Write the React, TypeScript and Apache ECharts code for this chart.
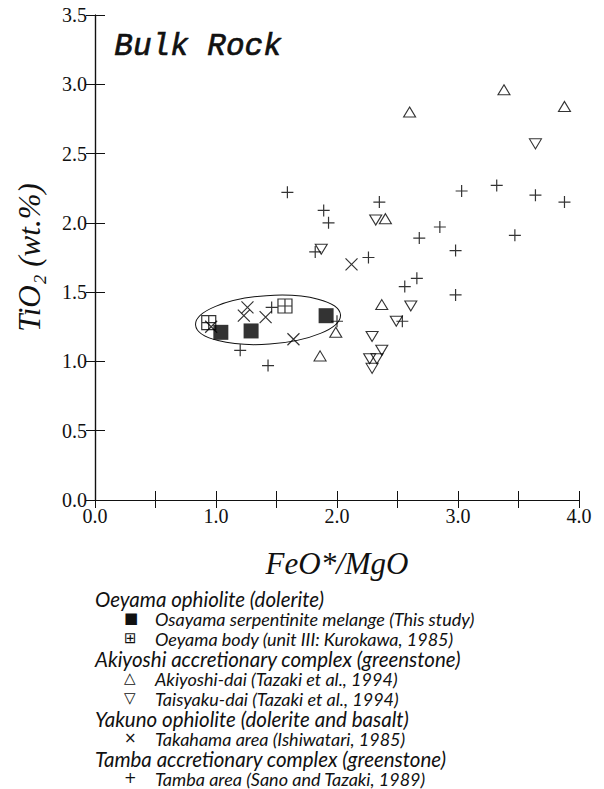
import React, { useEffect, useRef } from "react";
import * as echarts from "echarts";

// ---- data (FeO*/MgO, TiO2 wt.%) ----
const osayamaX = [1.04, 1.29, 1.91];
const osayamaY = [1.21, 1.22, 1.33];

const oeyamaX = [0.94, 1.57];
const oeyamaY = [1.28, 1.40];

const akiyoshiX = [1.99, 1.86, 2.40, 2.37, 3.38, 3.88, 2.60];
const akiyoshiY = [1.21, 1.04, 2.03, 1.41, 2.96, 2.84, 2.80];

const taisyakuX = [2.32, 1.87, 2.61, 2.49, 2.29, 2.37, 2.27, 2.33, 2.29, 3.64];
const taisyakuY = [2.02, 1.81, 1.40, 1.29, 1.18, 1.08, 1.02, 1.02, 0.95, 2.57];

const takahamaX = [1.26, 1.23, 1.41, 1.64, 0.96, 2.12];
const takahamaY = [1.39, 1.33, 1.32, 1.16, 1.25, 1.70];

const tambaX = [1.46, 1.20, 1.43, 2.00, 1.59, 1.89, 1.93, 1.82, 2.35, 2.68, 2.26, 2.66, 2.56, 2.54, 3.03, 3.32, 3.64, 3.88, 2.85, 3.47, 2.98, 2.98];
const tambaY = [1.39, 1.08, 0.97, 1.29, 2.22, 2.09, 2.00, 1.79, 2.15, 1.89, 1.75, 1.60, 1.54, 1.29, 2.23, 2.27, 2.20, 2.15, 1.97, 1.91, 1.80, 1.48];

// ellipse enclosing the Oeyama ophiolite group: [centerX, centerY, radiusX, radiusY]
const ellipseParams = [1.43, 1.30, 0.60, 0.175];

const xTicks = [0, 0.5, 1, 1.5, 2, 2.5, 3, 3.5, 4];
const yTicks = [0, 0.5, 1, 1.5, 2, 2.5, 3, 3.5];

const legendLines = [
  { kind: "header", text: "Oeyama ophiolite (dolerite)" },
  { kind: "item", sym: "■", text: "Osayama serpentinite melange (This study)" },
  { kind: "item", sym: "⊞", text: "Oeyama body (unit III: Kurokawa, 1985)" },
  { kind: "header", text: "Akiyoshi accretionary complex (greenstone)" },
  { kind: "item", sym: "△", text: "Akiyoshi-dai (Tazaki et al., 1994)" },
  { kind: "item", sym: "▽", text: "Taisyaku-dai (Tazaki et al., 1994)" },
  { kind: "header", text: "Yakuno ophiolite (dolerite and basalt)" },
  { kind: "item", sym: "×", text: "Takahama area (Ishiwatari, 1985)" },
  { kind: "header", text: "Tamba accretionary complex (greenstone)" },
  { kind: "item", sym: "+", text: "Tamba area (Sano and Tazaki, 1989)" },
];

const zip = (xs: number[], ys: number[]) => xs.map((x, i) => [x, ys[i]]);

const PLUS = "path://M0,6H12M6,0V12";
const CROSS = "path://M0,0L12,12M12,0L0,12";
const BOXPLUS = "path://M0,0H12V12H0ZM6,0V12M0,6H12";

const outline = { color: "rgba(0,0,0,0)", borderColor: "#000", borderWidth: 1.1 };

export default function App() {
  const ref = useRef<HTMLDivElement>(null);
  useEffect(() => {
    if (!ref.current) return;
    const chart = echarts.init(ref.current, null, { renderer: "svg" });
    const serif = "'Liberation Serif', 'Times New Roman', serif";
    const legendFont = "Lato, 'Open Sans', sans-serif";

    const legendGraphics: any[] = [];
    const top0 = 597;
    const step = 20;
    legendLines.forEach((l, i) => {
      const y = top0 + i * step;
      if (l.kind === "header") {
        legendGraphics.push({
          type: "text", left: 95, top: y - 8,
          style: { text: l.text, font: `italic 20.5px ${legendFont}`, fill: "#111", lineHeight: 16 },
        });
      } else {
        legendGraphics.push({
          type: "text", left: 124, top: y - 7,
          style: { text: (l as any).sym, font: `15px 'DejaVu Sans', sans-serif`, fill: "#111", lineHeight: 14 },
        });
        legendGraphics.push({
          type: "text", left: 155, top: y - 7,
          style: { text: l.text, font: `italic 18px ${legendFont}`, fill: "#111", lineHeight: 14 },
        });
      }
    });

    const axisCommon = {
      axisLine: { show: true, lineStyle: { color: "#111", width: 1.2 } },
      splitLine: { show: false },
    };

    chart.setOption({
      animation: false,
      backgroundColor: "#fff",
      grid: { left: 95, right: 25, top: 15, bottom: 289, containLabel: false },
      xAxis: [
        {
          type: "value", min: 0, max: 4, interval: 0.5, position: "bottom",
          ...axisCommon,
          axisTick: { show: true, inside: true, length: 9, lineStyle: { color: "#111" } },
          axisLabel: {
            margin: 6, color: "#111", fontFamily: serif, fontSize: 20,
            formatter: (v: number) => (xTicks.includes(v) && Number.isInteger(v) ? v.toFixed(1) : ""),
          },
          name: "FeO*/MgO", nameLocation: "middle", nameGap: 48,
          nameTextStyle: { fontFamily: serif, fontStyle: "italic", fontSize: 31, color: "#111" },
        },
        {
          type: "value", min: 0, max: 4, interval: 0.5, position: "top",
          ...axisCommon,
          axisTick: { show: true, inside: true, length: 8, lineStyle: { color: "#111" } },
          axisLabel: { show: false },
        },
      ],
      yAxis: [
        {
          type: "value", min: 0, max: 3.5, interval: 0.5, position: "left",
          ...axisCommon,
          axisTick: { show: true, inside: true, length: 10, lineStyle: { color: "#111" } },
          axisLabel: {
            margin: 8, color: "#111", fontFamily: serif, fontSize: 20,
            formatter: (v: number) => (yTicks.includes(v) ? v.toFixed(1) : ""),
            padding: [6, 0, 0, 0],
          },
          name: "TiO₂ (wt.%)", nameLocation: "middle", nameGap: 50, nameRotate: 90,
          nameTextStyle: { fontFamily: serif, fontStyle: "italic", fontSize: 31, color: "#111" },
        },
        {
          type: "value", min: 0, max: 3.5, interval: 0.5, position: "right",
          ...axisCommon,
          axisTick: { show: true, inside: true, length: 9, lineStyle: { color: "#111" } },
          axisLabel: { show: false },
        },
      ],
      graphic: [
        {
          type: "text", left: 114, top: 31,
          style: {
            text: "Bulk Rock", font: `italic 31px 'Liberation Mono', 'DejaVu Sans Mono', monospace`,
            fill: "#111", stroke: "#111", lineWidth: 0.7,
          },
        },
        ...legendGraphics,
      ],
      series: [
        {
          type: "custom",
          coordinateSystem: "cartesian2d",
          data: [ellipseParams],
          silent: true,
          renderItem: (params: any, api: any) => {
            const c = api.coord([api.value(0), api.value(1)]);
            const s = api.size([api.value(2), api.value(3)]);
            return {
              type: "ellipse",
              x: c[0], y: c[1],
              rotation: 0.07,
              shape: { cx: 0, cy: 0, rx: s[0], ry: s[1] },
              style: { fill: "none", stroke: "#111", lineWidth: 1 },
            };
          },
          z: 1,
        },
        {
          name: "Tamba area", type: "scatter", data: zip(tambaX, tambaY),
          symbol: PLUS, symbolSize: 12, itemStyle: { ...outline, borderWidth: 1.2 }, z: 3,
        },
        {
          name: "Takahama area", type: "scatter", data: zip(takahamaX, takahamaY),
          symbol: CROSS, symbolSize: 12, itemStyle: { ...outline, borderWidth: 1.2 }, z: 3,
        },
        {
          name: "Akiyoshi-dai", type: "scatter", data: zip(akiyoshiX, akiyoshiY),
          symbol: "triangle", symbolSize: [12, 10], itemStyle: outline, z: 3,
        },
        {
          name: "Taisyaku-dai", type: "scatter", data: zip(taisyakuX, taisyakuY),
          symbol: "triangle", symbolRotate: 180, symbolSize: [12, 10], itemStyle: outline, z: 3,
        },
        {
          name: "Oeyama body", type: "scatter", data: zip(oeyamaX, oeyamaY),
          symbol: BOXPLUS, symbolSize: 14, itemStyle: { ...outline, borderWidth: 1.2 }, z: 4,
        },
        {
          name: "Osayama serpentinite melange", type: "scatter", data: zip(osayamaX, osayamaY),
          symbol: "rect", symbolSize: 15, itemStyle: { color: "#000" }, z: 5,
        },
      ],
    });
    return () => chart.dispose();
  }, []);
  return (
    <div
      ref={ref}
      style={{ position: "fixed", left: 0, top: 0, width: 604, height: 789, background: "#fff" }}
    />
  );
}
